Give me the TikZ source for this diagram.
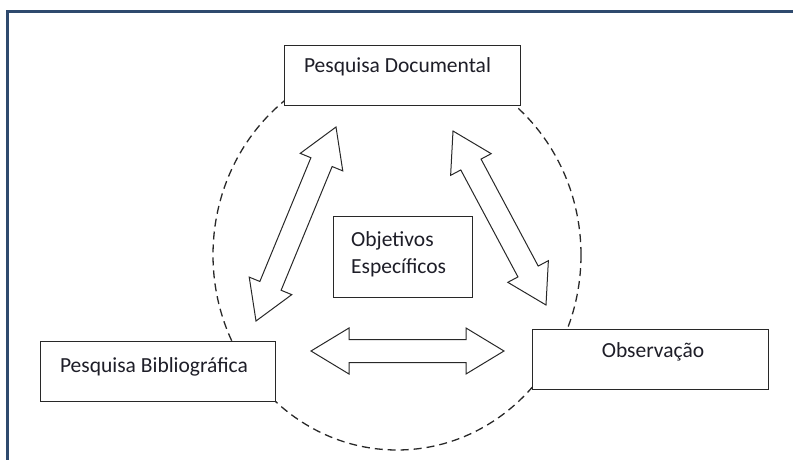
\documentclass[tikz,border=0pt]{standalone}
\usepackage{fontspec}
\setmainfont{Carlito}
\usetikzlibrary{calc}

\definecolor{framecol}{RGB}{47,74,110}
\definecolor{inkcol}{RGB}{40,40,40}
\definecolor{textcol}{RGB}{30,30,40}

\tikzset{
  box/.style={draw=inkcol, line width=1.4pt, fill=white, inner sep=0pt,
    minimum width=236pt, minimum height=60pt, anchor=north west},
  label/.style={text=textcol, inner sep=0pt, font=\fontsize{21.5}{27}\selectfont},
  ring/.style={draw=inkcol, line width=1.3pt, dash pattern=on 8pt off 5pt},
  arrowline/.style={draw=inkcol, line width=1pt, fill=white, line join=miter},
  frameline/.style={draw=framecol, line width=3pt}
}

% hollow two-headed block arrow between two tip points
\newcommand\twowayarrow[2]{%
  \path ($(#1)!38pt!(#2)$) coordinate (h1) ($(#2)!38pt!(#1)$) coordinate (h2);
  \draw[arrowline] (#1)
    -- ($(h1)!23pt!90:(#2)$) -- ($(h1)!11.5pt!90:(#2)$)
    -- ($(h2)!11.5pt!-90:(#1)$) -- ($(h2)!23pt!-90:(#1)$)
    -- (#2)
    -- ($(h2)!23pt!90:(#1)$) -- ($(h2)!11.5pt!90:(#1)$)
    -- ($(h1)!11.5pt!-90:(#2)$) -- ($(h1)!23pt!-90:(#2)$)
    -- cycle;}

\begin{document}
\begin{tikzpicture}[x=1pt, y=-1pt]
  \useasboundingbox (0,0) rectangle (793,460);

  % page frame
  \draw[frameline] (7,460) -- (7,12) -- (793,12);

  % dashed ring joining the three sources
  \draw[ring] (397,255) ellipse[x radius=184pt, y radius=195pt];

  % the three sources and the central goal
  \node[box] (docbox) at (284,45) {};
  \node[label, anchor=base] (doctext) at (397.5,73) {Pesquisa Documental};

  \node[box, minimum width=235pt] (bibbox) at (40,341) {};
  \node[label, anchor=base] (bibtext) at (154,372) {Pesquisa Bibliográfica};

  \node[box] (obsbox) at (532,329) {};
  \node[label, anchor=base] (obstext) at (653,357) {Observação};

  \node[box, minimum width=139pt, minimum height=81pt] (objbox) at (333,216) {};
  \node[label, anchor=base west] (objtext1) at (351,246) {Objetivos};
  \node[label, anchor=base west] (objtext2) at (351,273) {Específicos};

  % two-way links between the sources
  \coordinate (lb) at (256,321);
  \coordinate (lt) at (336,127);
  \coordinate (rt) at (453,131);
  \coordinate (rb) at (546,305);
  \coordinate (hl) at (311,351);
  \coordinate (hr) at (504,351);
  \twowayarrow{lb}{lt}
  \twowayarrow{rt}{rb}
  \twowayarrow{hl}{hr}
\end{tikzpicture}
\end{document}
